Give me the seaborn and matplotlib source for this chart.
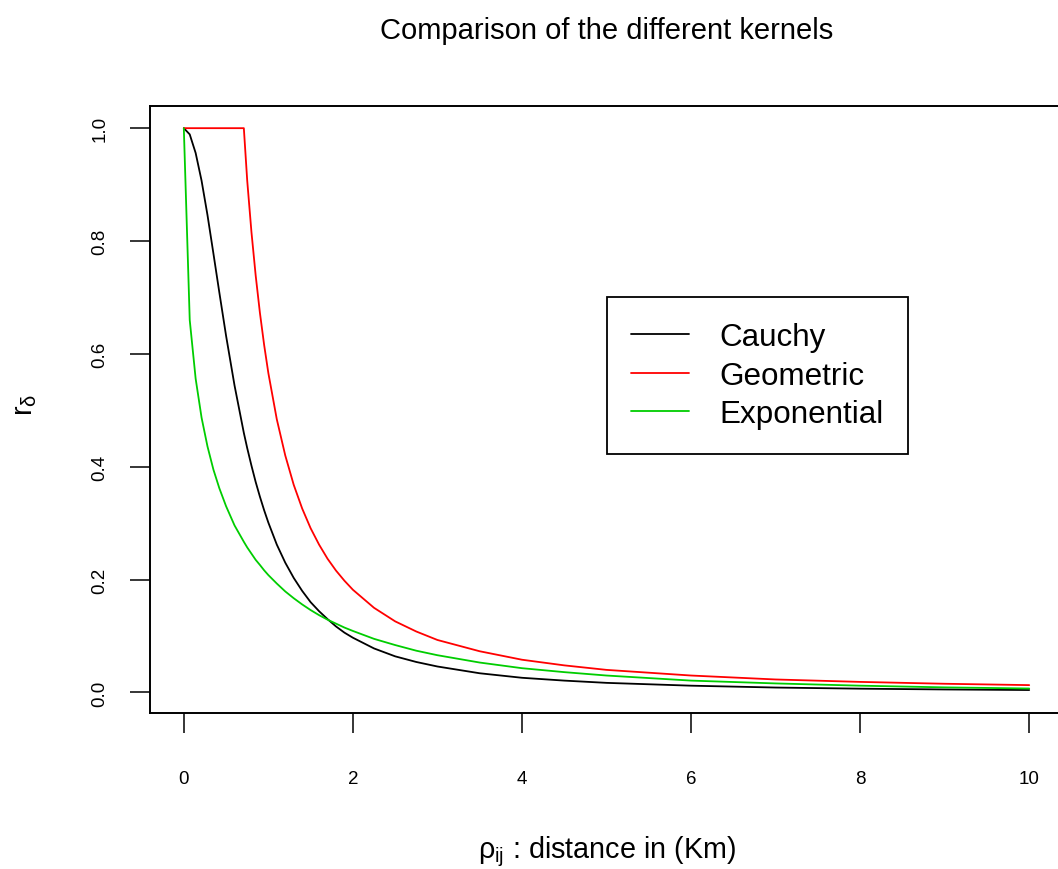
import numpy as np
import pandas as pd
import matplotlib
matplotlib.use("Agg")
import matplotlib.pyplot as plt
import seaborn as sns

# ---- data ----
distance = [0, 0.07, 0.14, 0.21, 0.28, 0.35, 0.42, 0.5, 0.6, 0.71,
            0.75, 0.8, 0.85, 0.9, 0.95, 1.0, 1.1, 1.2, 1.3, 1.4, 1.5, 1.6, 1.7, 1.8, 1.9,
            2.0, 2.25, 2.5, 2.75, 3.0, 3.5, 4.0, 4.5, 5.0, 6.0, 7.0, 8.0, 9.0, 10.0]
cauchy = [1.0, 0.989, 0.956, 0.907, 0.846, 0.778, 0.709, 0.632, 0.544, 0.460,
          0.433, 0.402, 0.373, 0.347, 0.323, 0.301, 0.262, 0.230, 0.203, 0.180, 0.160,
          0.144, 0.130, 0.117, 0.106,
          0.097, 0.078, 0.064, 0.054, 0.046, 0.034, 0.026, 0.021, 0.017, 0.012, 0.0087,
          0.0067, 0.0053, 0.0043]
geometric = [1.0, 1.0, 1.0, 1.0, 1.0, 1.0, 1.0, 1.0, 1.0, 1.0,
             0.907, 0.816, 0.739, 0.673, 0.616, 0.566, 0.484, 0.420, 0.368, 0.326, 0.291,
             0.262, 0.237, 0.216, 0.198,
             0.182, 0.150, 0.126, 0.108, 0.093, 0.073, 0.058, 0.048, 0.040, 0.030, 0.023,
             0.0187, 0.0154, 0.013]
exponential = [1.0, 0.660, 0.556, 0.487, 0.436, 0.395, 0.362, 0.330, 0.296, 0.267,
               0.257, 0.246, 0.235, 0.226, 0.2165, 0.208, 0.193, 0.179, 0.167, 0.156, 0.146,
               0.137, 0.129, 0.122, 0.115,
               0.109, 0.095, 0.084, 0.074, 0.066, 0.053, 0.043, 0.036, 0.030, 0.021, 0.016,
               0.012, 0.009, 0.007]

kernel_names = ["Cauchy", "Geometric", "Exponential"]
kernel_colors = {"Cauchy": "#000000", "Geometric": "#FF0000", "Exponential": "#00CD00"}
x_ticks = [0, 2, 4, 6, 8, 10]
y_ticks = [0.0, 0.2, 0.4, 0.6, 0.8, 1.0]

title_text = "Comparison of the different kernels"
x_label = r"$\rho_{ij}$ : distance in (Km)"
y_label = r"$r_{\delta}$"

# ---- long-form table ----
frames = []
for name, vals in zip(kernel_names, [cauchy, geometric, exponential]):
    frames.append(pd.DataFrame({"distance": distance, "r": vals, "kernel": name}))
df = pd.concat(frames, ignore_index=True)

# ---- style ----
sns.set_theme(style="white")
plt.rcParams["font.family"] = ["Liberation Sans", "DejaVu Sans"]
plt.rcParams["mathtext.fontset"] = "custom"
plt.rcParams["mathtext.rm"] = "Liberation Sans"
plt.rcParams["mathtext.it"] = "Liberation Sans"
plt.rcParams["mathtext.bf"] = "Liberation Sans:bold"

W, H = 1058, 870
fig = plt.figure(figsize=(W / 100, H / 100), dpi=100)
fig.patch.set_facecolor("white")

ax_left, ax_top, ax_bottom, ax_right = 150, 106.7, 713.5, 1063
ax = fig.add_axes([ax_left / W, 1 - ax_bottom / H,
                   (ax_right - ax_left) / W, (ax_bottom - ax_top) / H])

sns.lineplot(data=df, x="distance", y="r", hue="kernel", hue_order=kernel_names,
             palette=kernel_colors, estimator=None, sort=False, linewidth=1.3,
             ax=ax, legend=True)

# axis limits like R (4 % padding)
xmin, xmax = min(distance), max(distance)
allv = cauchy + geometric + exponential
ymin, ymax = min(allv), max(allv)
ax.set_xlim(xmin - 0.04 * (xmax - xmin), xmax + 0.04 * (xmax - xmin))
ax.set_ylim(ymin - 0.04 * (ymax - ymin), ymax + 0.04 * (ymax - ymin))

ax.set_xticks(x_ticks)
ax.set_xticklabels([str(t) for t in x_ticks])
ax.set_yticks(y_ticks)
ax.set_yticklabels([f"{t:.1f}" for t in y_ticks], rotation=90, va="center")

ax.tick_params(axis="both", direction="out", length=14.4, width=1.1, color="black",
               labelcolor="black", labelsize=13.5, bottom=True, left=True,
               top=False, right=False)
ax.tick_params(axis="x", pad=27)
ax.tick_params(axis="y", pad=15.5)

for sp in ax.spines.values():
    sp.set_visible(True)
    sp.set_color("black")
    sp.set_linewidth(1.4)

ax.grid(False)

ax.set_title(title_text, fontsize=21, pad=49, color="black")

ax.set_xlabel(x_label, fontsize=20.7, color="black")
ax.xaxis.label.set_va("baseline")
ax.xaxis.set_label_coords(0.5, -(858 - ax_bottom) / (ax_bottom - ax_top))

ax.set_ylabel(y_label, fontsize=20.7, color="black", rotation=90)
ax.yaxis.label.set_va("center")
ax.yaxis.label.set_ha("center")
ax.yaxis.set_label_coords((25 - ax_left) / (ax_right - ax_left),
                          (ax_bottom - 405) / (ax_bottom - ax_top))

# legend
handles, labels = ax.get_legend_handles_labels()
if ax.get_legend() is not None:
    ax.get_legend().remove()
leg = ax.legend(handles, labels, loc="upper left",
                bbox_to_anchor=(606.7 / W, 1 - 298.3 / H),
                bbox_transform=fig.transFigure, borderaxespad=0,
                fontsize=22.6, handlelength=1.85, handletextpad=0.95,
                labelspacing=0.28, borderpad=0.78, fancybox=False, shadow=False,
                frameon=True)
leg.get_frame().set_edgecolor("black")
leg.get_frame().set_linewidth(1.3)
leg.get_frame().set_facecolor("white")
leg.get_frame().set_alpha(1)
for t in leg.get_texts():
    t.set_color("black")
for line in leg.get_lines():
    line.set_linewidth(1.3)

fig.savefig("out.png", dpi=100, facecolor="white")
